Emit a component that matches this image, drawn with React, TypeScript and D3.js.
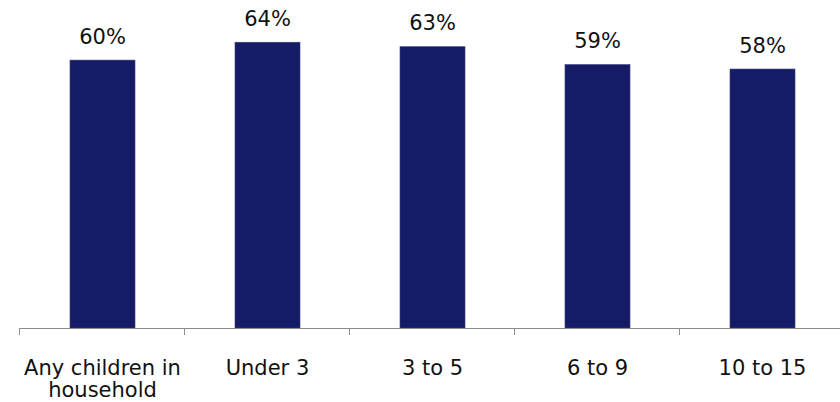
import React from "react";
import * as d3 from "d3";

// Share of respondents by age of children in the household
const categories: string[][] = [
  ["Any children in", "household"],
  ["Under 3"],
  ["3 to 5"],
  ["6 to 9"],
  ["10 to 15"],
];
const values: number[] = [60, 64, 63, 59, 58];

const WIDTH = 840;
const HEIGHT = 402;
const BASELINE = 328;
const AXIS_LEFT = 19;
const STEP = 165;
const FONT = "Verdana, 'DejaVu Sans', sans-serif";
const BAR_COLOR = "#151c65";

export default function App() {
  const keys = categories.map((c) => c.join(" "));
  const x = d3
    .scaleBand<string>()
    .domain(keys)
    .range([AXIS_LEFT + 1, AXIS_LEFT + 1 + STEP * keys.length])
    .paddingInner(0.606)
    .paddingOuter(0.303);
  const y = d3.scaleLinear().domain([0, 100]).range([BASELINE, BASELINE - 446.5]);
  const bw = x.bandwidth();
  const step = x.step();
  const half = (step - bw) / 2;

  const tickXs = keys.map((k) => (x(k) as number) - half - 1);
  tickXs.push((x(keys[keys.length - 1]) as number) + bw + half - 1);

  return (
    <div style={{ position: "absolute", left: 0, top: 0 }}>
      <svg width={WIDTH} height={HEIGHT} style={{ display: "block", background: "#fff" }}>
        {keys.map((k, i) => {
          const x0 = x(k) as number;
          const top = y(values[i]);
          return (
            <g key={k}>
              <rect
                x={x0}
                y={top}
                width={bw}
                height={BASELINE - top}
                fill={BAR_COLOR}
                stroke="#3a4080"
                strokeWidth={0.6}
              />
              <text
                x={x0 + bw / 2}
                y={top - 16.5}
                textAnchor="middle"
                fontFamily={FONT}
                fontSize={21}
                fill="#111"
              >
                {values[i]}%
              </text>
              {categories[i].map((line, j) => (
                <text
                  key={j}
                  x={x0 + bw / 2}
                  y={375 + j * 22}
                  textAnchor="middle"
                  fontFamily={FONT}
                  fontSize={21}
                  fill="#111"
                >
                  {line}
                </text>
              ))}
            </g>
          );
        })}
        <line
          x1={AXIS_LEFT}
          x2={WIDTH}
          y1={BASELINE + 0.5}
          y2={BASELINE + 0.5}
          stroke="#8c8c8c"
          strokeWidth={1}
        />
        {tickXs.map((tx, i) => (
          <line
            key={i}
            x1={Math.round(tx) + 0.5}
            x2={Math.round(tx) + 0.5}
            y1={BASELINE}
            y2={BASELINE + 7}
            stroke="#8c8c8c"
            strokeWidth={1}
          />
        ))}
      </svg>
    </div>
  );
}
